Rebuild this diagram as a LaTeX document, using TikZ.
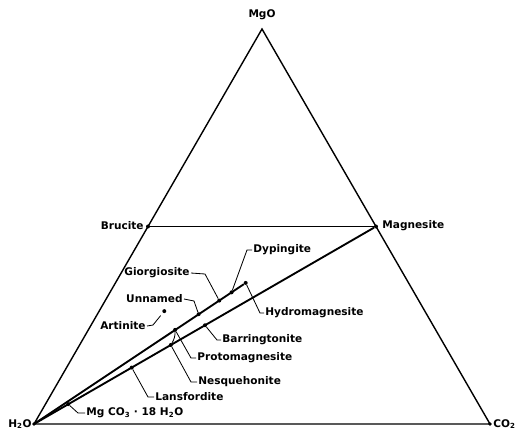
\documentclass[tikz,border=0pt]{standalone}
\usepackage{fontspec}
\setmainfont{DejaVu Sans}
\usetikzlibrary{calc}
\tikzset{
  edge/.style={line width=1.2pt, line join=miter},
  tie/.style={line width=1.6pt},
  lead/.style={line width=0.7pt},
  phase/.style={circle, fill, inner sep=0pt, minimum size=3.4pt},
  lab/.style={font=\fontsize{9}{10}\selectfont\bfseries, inner sep=1pt},
  labr/.style={lab, anchor=west},
  labl/.style={lab, anchor=east}}
\begin{document}
\begin{tikzpicture}[x=0.03cm, y=-0.03cm]
  \useasboundingbox (0,0) rectangle (515,431);
  % the three components
  \coordinate (water) at (34,424);
  \coordinate (carb) at (490,424);
  \coordinate (mgo) at (262,29);
  \draw[edge] (water) -- (carb) -- (mgo) -- cycle;
  % phases, placed by composition
  \node[phase] (brucite) at (barycentric cs:water=1,mgo=1) {};
  \node[phase] (magnesite) at (barycentric cs:carb=1,mgo=1) {};
  \node[phase] (hydromag) at (barycentric cs:water=5,carb=4,mgo=5) {};
  \node[phase] (dyp) at (barycentric cs:water=6,carb=4,mgo=5) {};
  \node[phase] (giorg) at (barycentric cs:water=7,carb=4,mgo=5) {};
  \node[phase] (unnamed) at (barycentric cs:water=9,carb=4,mgo=5) {};
  \node[phase] (proto) at (barycentric cs:water=12,carb=4,mgo=5) {};
  \node[phase] (artinite) at (barycentric cs:water=4,carb=1,mgo=2) {};
  \node[phase] (barr) at (barycentric cs:water=2,carb=1,mgo=1) {};
  \node[phase] (nesq) at (barycentric cs:water=3,carb=1,mgo=1) {};
  \node[phase] (lans) at (barycentric cs:water=5,carb=1,mgo=1) {};
  \node[phase] (mg18) at (barycentric cs:water=18,carb=1,mgo=1) {};
  \fill (water) circle (1.8);
  \fill (carb) circle (1.8);
  % joins
  \draw[tie] (brucite) -- (magnesite);
  \draw[tie] (water) -- (magnesite);
  \draw[tie] (water) -- (hydromag);
  \draw[lead] (proto) to[bend left=15] (nesq);
  % labels
  \node[lab] (mgolab) at (262,15) {MgO};
  \node[labl] (h2olab) at (33,424) {H\textsubscript{2}O};
  \node[labr] (co2lab) at (492,424) {CO\textsubscript{2}};
  \node[labl] (brulab) at (145,226) {Brucite};
  \node[labr] (maglab) at (381,226) {Magnesite};
  \node[labr] (dyplab) at (252,250) {Dypingite};
  \node[labl] (giolab) at (191,273) {Giorgiosite};
  \node[labl] (unlab) at (184,299) {Unnamed};
  \node[labr] (hydlab) at (264,313) {Hydromagnesite};
  \node[labl] (artlab) at (147,326) {Artinite};
  \node[labr] (barlab) at (221,340) {Barringtonite};
  \node[labr] (prolab) at (196,358) {Protomagnesite};
  \node[labr] (neslab) at (197,382) {Nesquehonite};
  \node[labr] (lanlab) at (154,397) {Lansfordite};
  \node[labr] (mglab) at (85,413) {Mg CO\textsubscript{3} · 18 H\textsubscript{2}O};
  % leaders
  \draw[lead] (dyp) -- ($(dyplab.west)+(-5,0)$) -- (dyplab.west);
  \draw[lead] (giolab.east) -- ($(giolab.east)+(14,1)$) -- (giorg);
  \draw[lead] (unlab.east) -- ($(unlab.east)+(10,2)$) -- (unnamed);
  \draw[lead] (hydromag) -- ($(hydlab.west)+(-4,0)$) -- (hydlab.west);
  \draw[lead, shorten >=3pt] (artlab.east) -- ($(artlab.east)+(6,-1)$) -- (artinite);
  \draw[lead] (barr) -- ($(barlab.west)+(-4,0)$) -- (barlab.west);
  \draw[lead] (proto) -- ($(prolab.west)+(-5,0)$) -- (prolab.west);
  \draw[lead] (nesq) -- ($(neslab.west)+(-6,0)$) -- (neslab.west);
  \draw[lead] (lans) -- ($(lanlab.west)+(-6,0)$) -- (lanlab.west);
  \draw[lead] (mg18) -- ($(mglab.west)+(-7,0)$) -- (mglab.west);
\end{tikzpicture}
\end{document}
